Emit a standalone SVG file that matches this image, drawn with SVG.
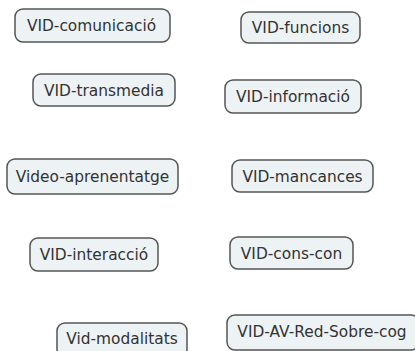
<svg xmlns="http://www.w3.org/2000/svg" width="415" height="351" viewBox="0 0 415 351">
  <style>
    .box { fill: #edf2f5; stroke: #555; stroke-width: 1.5; }
    .lbl { font-family: "DejaVu Sans", Verdana, sans-serif; font-size: 15.4px; fill: #333; text-anchor: middle; dominant-baseline: central; }
  </style>
  <rect width="415" height="351" fill="#fff"/>
  <g id="connectors"></g>
  <g id="vid-comunicacio">
    <rect class="box" x="15" y="9" width="155" height="33" rx="8"/>
    <text class="lbl" x="91.5" y="26">VID-comunicació</text>
  </g>
  <g id="vid-funcions">
    <rect class="box" x="241" y="12" width="119" height="31" rx="8"/>
    <text class="lbl" x="300.5" y="28">VID-funcions</text>
  </g>
  <g id="vid-transmedia">
    <rect class="box" x="33" y="74" width="142" height="32" rx="8"/>
    <text class="lbl" x="104" y="90.5">VID-transmedia</text>
  </g>
  <g id="vid-informacio">
    <rect class="box" x="225" y="80" width="136" height="33" rx="8"/>
    <text class="lbl" x="293" y="97">VID-informació</text>
  </g>
  <g id="video-aprenentatge">
    <rect class="box" x="7" y="159" width="171" height="35" rx="8"/>
    <text class="lbl" x="92.5" y="177">Video-aprenentatge</text>
  </g>
  <g id="vid-mancances">
    <rect class="box" x="232" y="160" width="141" height="32" rx="8"/>
    <text class="lbl" x="302.5" y="176.5">VID-mancances</text>
  </g>
  <g id="vid-interaccio">
    <rect class="box" x="30" y="238" width="128" height="33" rx="8"/>
    <text class="lbl" x="94" y="255">VID-interacció</text>
  </g>
  <g id="vid-cons-con">
    <rect class="box" x="230" y="237" width="123" height="32" rx="8"/>
    <text class="lbl" x="291.5" y="253.5">VID-cons-con</text>
  </g>
  <g id="vid-modalitats">
    <rect class="box" x="57" y="323" width="130" height="34" rx="8"/>
    <text class="lbl" x="122" y="339">Vid-modalitats</text>
  </g>
  <g id="vid-av-red-sobre-cog">
    <rect class="box" x="227" y="315" width="192" height="35" rx="8"/>
    <text class="lbl" x="322" y="332">VID-AV-Red-Sobre-cog</text>
  </g>
</svg>
